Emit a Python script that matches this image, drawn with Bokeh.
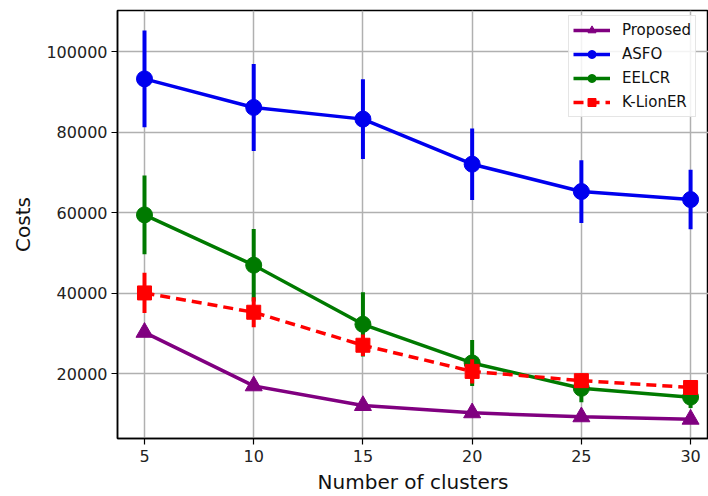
from bokeh.plotting import figure
from bokeh.models import Range1d, FixedTicker, Legend, LegendItem, BasicTickFormatter
from bokeh.embed import file_html
from bokeh.resources import INLINE

clusters = [5, 10, 15, 20, 25, 30]

proposed = [30300, 17000, 12100, 10300, 9300, 8700]

asfo = [93300, 86200, 83300, 72100, 65300, 63300]
asfo_err = [12000, 10800, 9900, 8900, 7800, 7400]

eelcr = [59500, 47000, 32300, 22700, 16400, 14200]
eelcr_err = [9800, 9000, 8000, 5700, 3500, 2700]

klioner = [40100, 35300, 27100, 20600, 18300, 16600]
klioner_err = [5000, 3700, 2700, 3000, 1800, 1600]

y_ticks = [20000, 40000, 60000, 80000, 100000]

FONT = "DejaVu Sans"

p = figure(width=708, height=496, output_backend="svg", toolbar_location=None,
           x_range=Range1d(3.764, 30.82), y_range=Range1d(3920, 110300),
           min_border_left=117, min_border_right=0, min_border_top=10, min_border_bottom=56)

p.background_fill_color = "white"
p.border_fill_color = "white"
p.outline_line_color = "black"
p.outline_line_width = 1.5

for ax in (p.xaxis[0], p.yaxis[0]):
    ax.major_label_text_font = FONT
    ax.major_label_text_font_size = "16px"
    ax.major_label_text_color = "#222222"
    ax.axis_label_text_font = FONT
    ax.axis_label_text_font_size = "20px"
    ax.axis_label_text_font_style = "normal"
    ax.axis_label_text_color = "#111111"
    ax.major_tick_out = 6
    ax.major_tick_in = 0
    ax.minor_tick_out = 0
    ax.minor_tick_in = 0
    ax.axis_line_width = 1.5
    ax.major_tick_line_width = 1.2

p.xaxis.ticker = FixedTicker(ticks=clusters)
p.yaxis.ticker = FixedTicker(ticks=y_ticks)
p.yaxis.formatter = BasicTickFormatter(use_scientific=False)
p.xaxis.axis_label = "Number of clusters"
p.yaxis.axis_label = "Costs"
p.xaxis.major_label_standoff = 5
p.yaxis.major_label_standoff = 4
p.xaxis.axis_label_standoff = 5
p.yaxis.axis_label_standoff = 8

p.xgrid.ticker = FixedTicker(ticks=clusters)
p.ygrid.ticker = FixedTicker(ticks=y_ticks)
p.grid.grid_line_color = "#b0b0b0"
p.grid.grid_line_width = 1.5

items = []

# Proposed
c = "#800080"
l1 = p.line(clusters, proposed, line_color=c, line_width=3.5)
m1 = p.scatter(clusters, proposed, marker="triangle", size=17, fill_color=c, line_color=c)
items.append(LegendItem(label="Proposed", renderers=[l1, m1]))

# ASFO
c = "#0000ee"
p.segment(x0=clusters, y0=[v - e for v, e in zip(asfo, asfo_err)],
          x1=clusters, y1=[v + e for v, e in zip(asfo, asfo_err)], line_color=c, line_width=4)
l2 = p.line(clusters, asfo, line_color=c, line_width=3.5)
m2 = p.scatter(clusters, asfo, marker="circle", size=16, fill_color=c, line_color=c)
items.append(LegendItem(label="ASFO", renderers=[l2, m2]))

# EELCR
c = "#007a00"
p.segment(x0=clusters, y0=[v - e for v, e in zip(eelcr, eelcr_err)],
          x1=clusters, y1=[v + e for v, e in zip(eelcr, eelcr_err)], line_color=c, line_width=4)
l3 = p.line(clusters, eelcr, line_color=c, line_width=3.5)
m3 = p.scatter(clusters, eelcr, marker="circle", size=16, fill_color=c, line_color=c)
items.append(LegendItem(label="EELCR", renderers=[l3, m3]))

# K-LionER
c = "#ff0000"
p.segment(x0=clusters, y0=[v - e for v, e in zip(klioner, klioner_err)],
          x1=clusters, y1=[v + e for v, e in zip(klioner, klioner_err)], line_color=c, line_width=4)
l4 = p.line(clusters, klioner, line_color=c, line_width=3.5, line_dash="10 6")
m4 = p.scatter(clusters, klioner, marker="square", size=14, fill_color=c, line_color=c)
items.append(LegendItem(label="K-LionER", renderers=[l4, m4]))

legend = Legend(items=items, location=(451, 321))
legend.label_text_font = FONT
legend.label_text_font_size = "15px"
legend.label_text_color = "#111111"
legend.glyph_width = 37
legend.glyph_height = 20
legend.label_height = 20
legend.label_standoff = 12
legend.spacing = 4
legend.padding = 4
legend.margin = 0
legend.border_line_color = "#cccccc"
legend.border_line_width = 1.2
legend.background_fill_color = "white"
legend.background_fill_alpha = 0.85
p.add_layout(legend)

open("out.html", "w").write(file_html(p, INLINE))
